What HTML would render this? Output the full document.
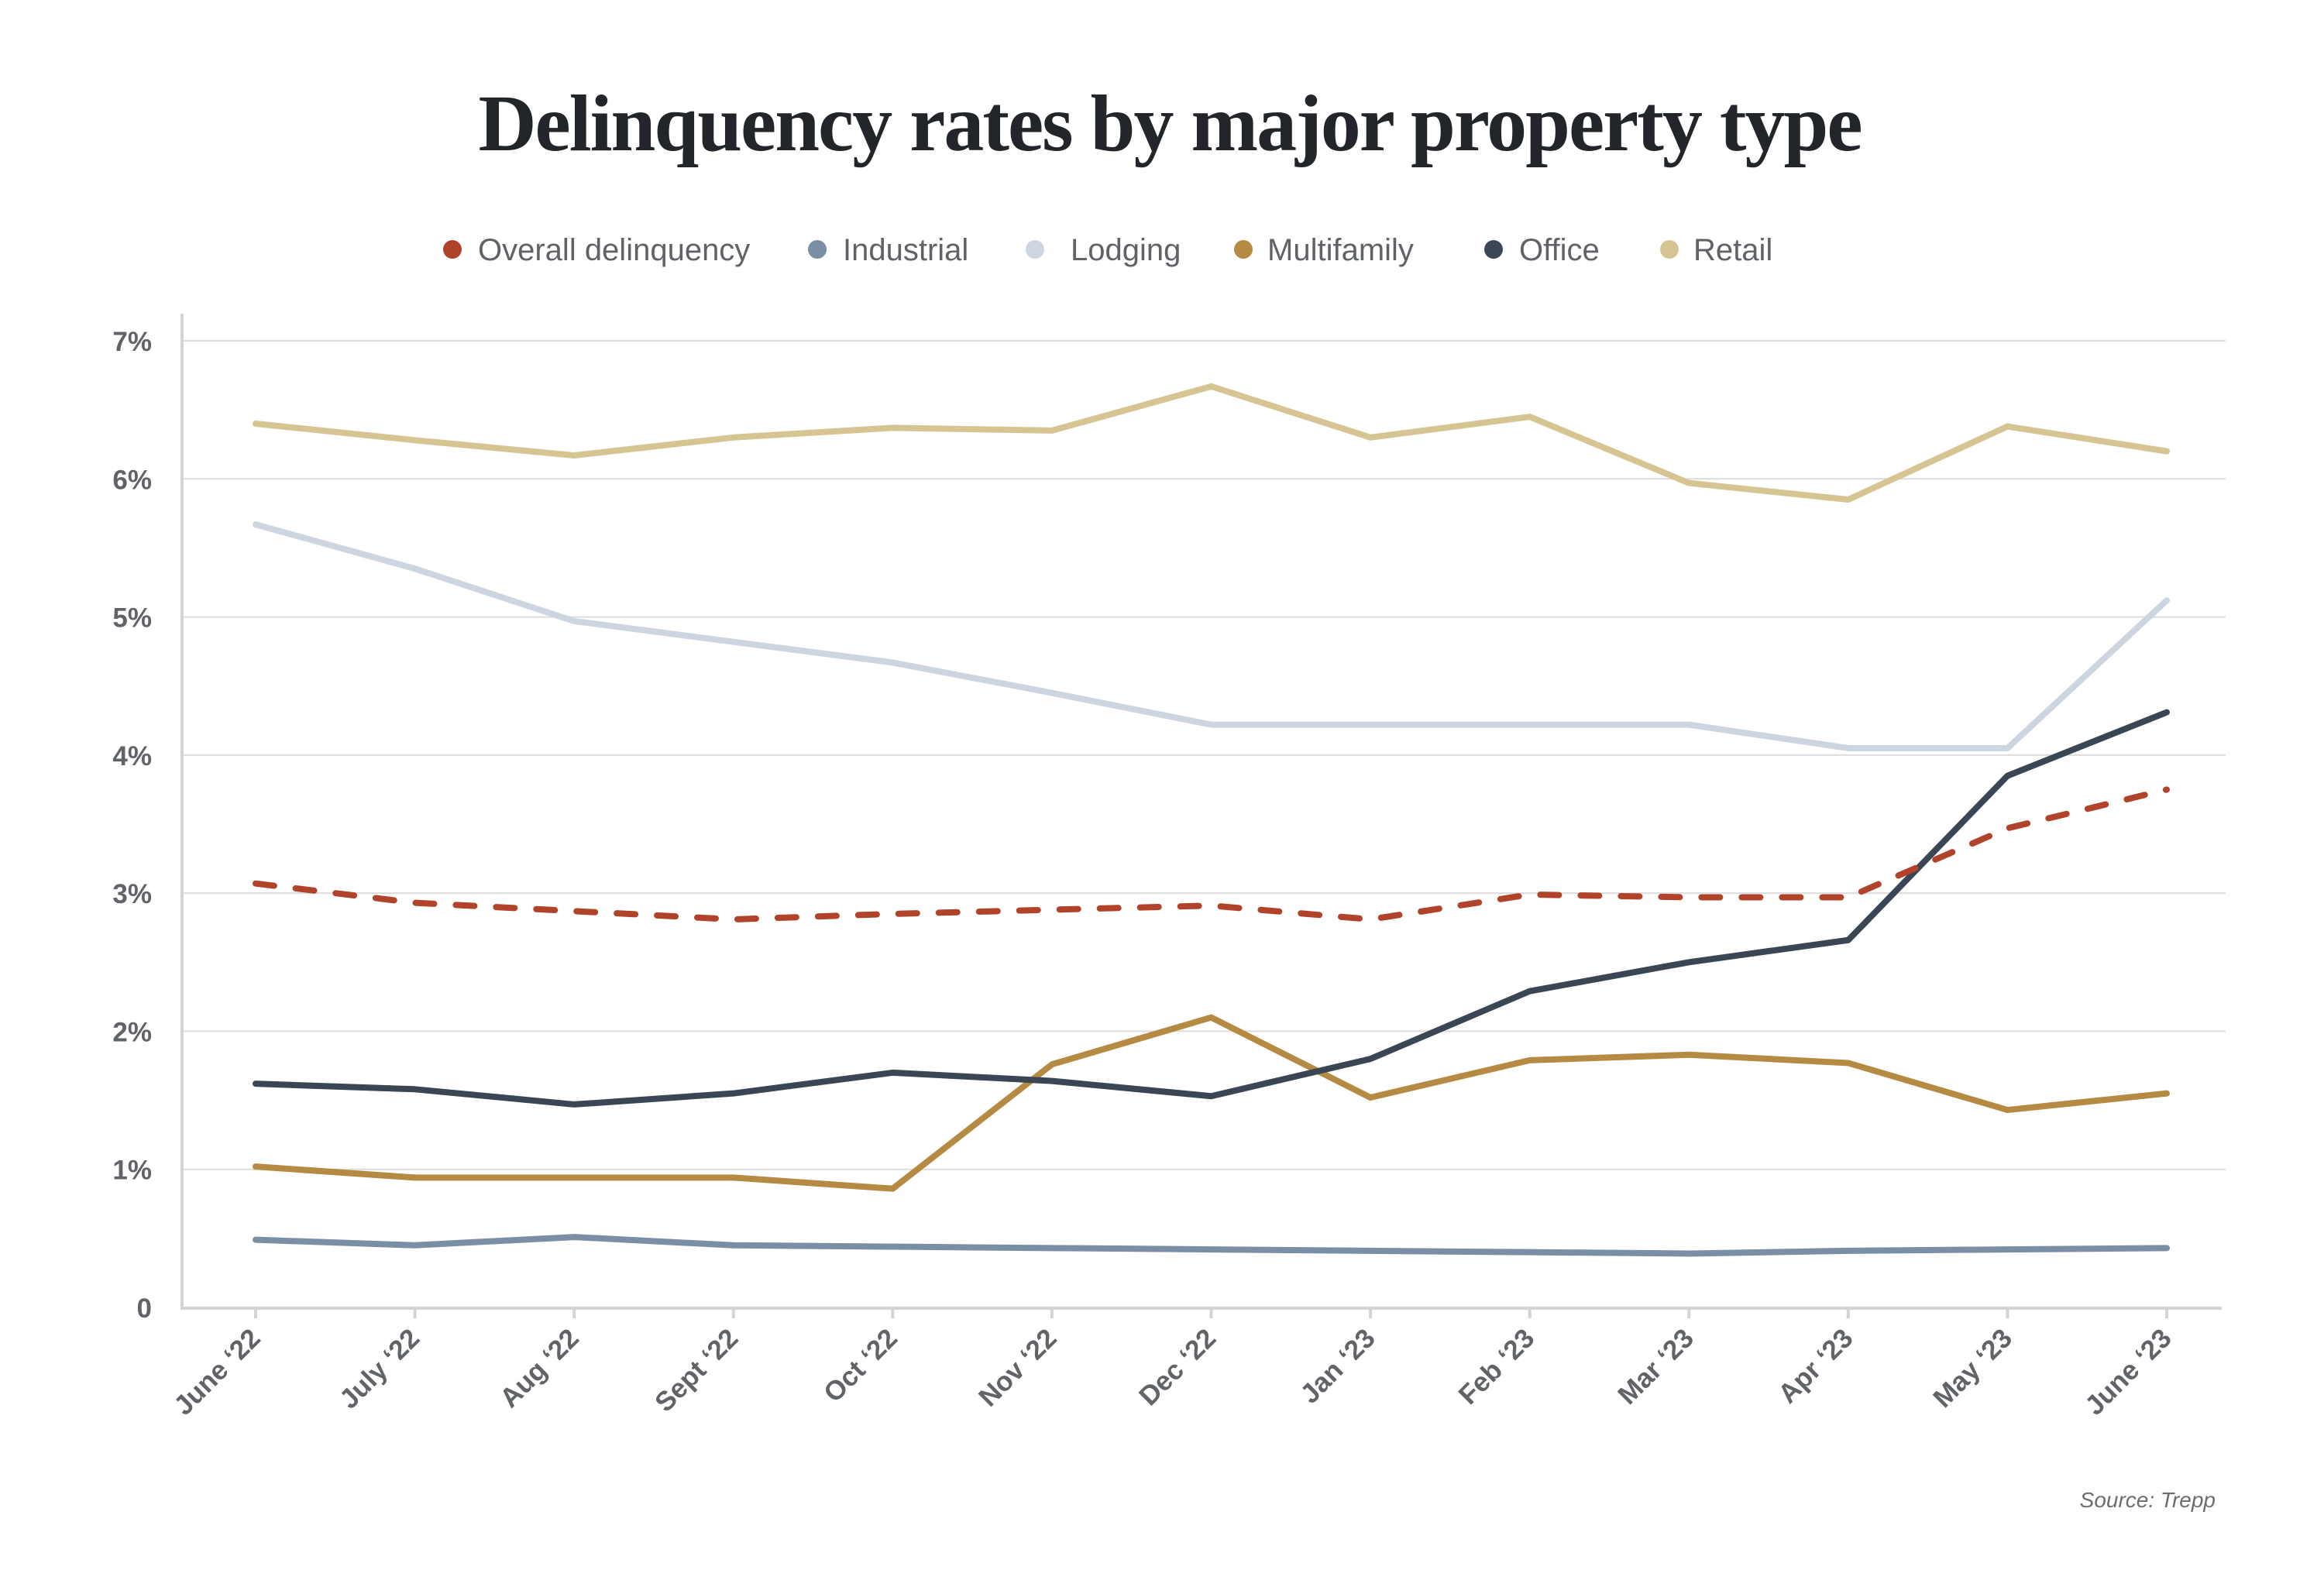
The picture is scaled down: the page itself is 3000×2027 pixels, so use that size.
<!DOCTYPE html>
<html><head><meta charset="utf-8"><style>
html,body{margin:0;padding:0;background:#fff;}
body{width:3000px;height:2022px;position:relative;overflow:hidden;font-family:"Liberation Sans",sans-serif;}
</style></head><body>
<svg id="chart" width="3000" height="2022" viewBox="0 0 3000 2022" xmlns="http://www.w3.org/2000/svg">
<text x="1510" y="194" text-anchor="middle" font-family="Liberation Serif, serif" font-weight="bold" font-size="104" letter-spacing="-2" fill="#22252a">Delinquency rates by major property type</text>
<g id="legend" font-size="40" fill="#5f6266"></g>
<g id="grid"></g>
<g id="yaxis"></g>
<g id="xaxis"></g>
<g id="series"></g>
<text x="2860" y="1946" text-anchor="end" font-style="italic" font-size="28" fill="#6a6d71">Source: Trepp</text>
</svg>
<script>
const categories = ["June \u201822","July \u201822","Aug \u201822","Sept \u201822","Oct \u201822","Nov \u201822","Dec \u201822","Jan \u201823","Feb \u201823","Mar \u201823","Apr \u201823","May \u201823","June \u201823"];
const yTicks = [0,1,2,3,4,5,6,7];
const yTickLabels = ["0","1%","2%","3%","4%","5%","6%","7%"];
const seriesNames = ["Overall delinquency","Industrial","Lodging","Multifamily","Office","Retail"];
const overall = [3.07,2.93,2.87,2.81,2.85,2.88,2.91,2.81,2.99,2.97,2.97,3.47,3.75];
const industrial = [0.49,0.45,0.51,0.45,0.44,0.43,0.42,0.41,0.40,0.39,0.41,0.42,0.43];
const lodging = [5.67,5.35,4.97,4.82,4.67,4.45,4.22,4.22,4.22,4.22,4.05,4.05,5.12];
const multifamily = [1.02,0.94,0.94,0.94,0.86,1.76,2.10,1.52,1.79,1.83,1.77,1.43,1.55];
const office = [1.62,1.58,1.47,1.55,1.70,1.64,1.53,1.80,2.29,2.50,2.66,3.85,4.31];
const retail = [6.40,6.28,6.17,6.30,6.37,6.35,6.67,6.30,6.45,5.97,5.85,6.38,6.20];

const NS="http://www.w3.org/2000/svg";
const X0=330, X1=2797, Y0=1688, Y7=440;
function xs(i){return X0+(X1-X0)*i/(categories.length-1);}
function ys(v){return Y0-(Y0-Y7)*v/7;}
function mk(tag,attrs,parent){const e=document.createElementNS(NS,tag);for(const k in attrs)e.setAttribute(k,attrs[k]);parent.appendChild(e);return e;}

const grid=document.getElementById('grid'), yaxis=document.getElementById('yaxis'), xaxis=document.getElementById('xaxis');
yTicks.forEach((t,i)=>{
  if(t>0){const g=mk('line',{x1:236,x2:2873,y1:ys(t),y2:ys(t),stroke:'#dcdcdc','stroke-width':2},grid);
  
  }
  const l=mk('text',{x:196,y:ys(t)+13,'text-anchor':'end','font-size':35,'font-weight':'bold',fill:'#606368'},yaxis);
  l.textContent=yTickLabels[i];
  
  
});
const ax=mk('line',{x1:235,x2:235,y1:405,y2:1690,stroke:'#d4d4d4','stroke-width':4},yaxis);


const bx=mk('line',{x1:233,x2:2868,y1:1689,y2:1689,stroke:'#d4d4d4','stroke-width':4},xaxis);


categories.forEach((c,i)=>{
  const x=xs(i);
  const tk=mk('line',{x1:x,x2:x,y1:1689,y2:1702,stroke:'#d4d4d4','stroke-width':4},xaxis);
  
  
  const t=mk('text',{x:x+8,y:1730,'text-anchor':'end','font-size':35,'font-weight':'bold',fill:'#606368',transform:`rotate(-45 ${x+8} 1730)`},xaxis);
  t.textContent=c;
  
  
});

const data=[overall,industrial,lodging,multifamily,office,retail];
const colors=["#b0432a","#7a8fa3","#cdd6e0","#b58a42","#3a4654","#d6c593"];
const keys=["overall","industrial","lodging","multifamily","office","retail"];
const order=[5,2,1,3,4,0];
const sg=document.getElementById('series');
order.forEach(s=>{
  const pts=data[s].map((v,i)=>xs(i)+','+ys(v)).join(' ');
  const attrs={points:pts,fill:'none',stroke:colors[s],'stroke-width':8,'stroke-linecap':'round','stroke-linejoin':'round'};
  if(s===0){attrs['stroke-dasharray']='24 28';}
  const p=mk('polyline',attrs,sg);
  
  
});

const lg=document.getElementById('legend');
const dotX=[584,1055,1336,1605,1928,2155];
const txtX=[617,1088,1382,1636,1961,2186];
seriesNames.forEach((n,i)=>{
  const c=mk('circle',{cx:dotX[i],cy:322,r:12,fill:colors[i]},lg);
  
  
  const t=mk('text',{x:txtX[i],y:336},lg);
  t.textContent=n;
  
  
});
</script>
</body></html>
